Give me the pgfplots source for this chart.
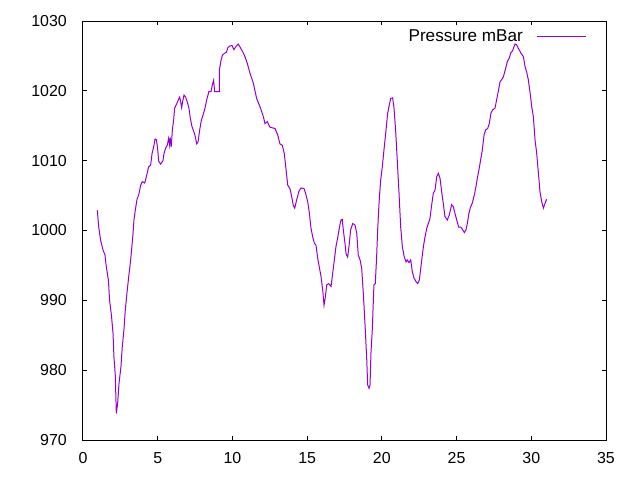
\documentclass[border=0pt]{standalone}
\usepackage{pgfplots}
\pgfplotsset{compat=1.18}
\usepackage{fontspec}
\setmainfont{Liberation Sans}
\definecolor{gp}{RGB}{148,0,211}
\begin{document}
\begin{tikzpicture}[x=1bp,y=1bp]
\begin{axis}[at={(0,0)}, anchor=south west, scale only axis,
 width=523bp, height=419bp,
 xmin=0, xmax=35, ymin=970, ymax=1030,
 xtick={0,5,...,35}, ytick={970,980,...,1030},
 minor tick num=0, tick align=inside, major tick length=4bp,
 axis line style={line width=1bp},
 every tick/.style={black, line width=1bp},
 tick label style={font=\fontsize{16}{18}\selectfont, inner sep=0pt},
 /pgf/number format/assume math mode=true,
 /pgf/number format/set thousands separator={},
 yticklabel style={xshift=-16bp},
 xticklabel style={yshift=-12bp},
 legend plot pos=right, legend cell align=right,
 legend image code/.code={\draw[#1] (0bp,0bp) -- (49bp,0bp);},
 legend style={draw=none, fill=none, inner sep=0pt, outer sep=0pt,
   at={(axis cs:33.72,1027.75)}, anchor=east, nodes={inner sep=0pt},
   column sep=14bp, font=\fontsize{17.2}{19}\selectfont},
]
\addplot[color=gp, line width=1bp, mark=none] coordinates {
(0.96,1002.9) (1.05,1000.5) (1.18,998.6) (1.34,997.2) (1.47,996.5) (1.56,994.8)
(1.70,992.9) (1.78,990.0) (1.90,987.9) (2.01,985.3) (2.07,981.9) (2.16,979.3)
(2.23,973.8) (2.32,975.3) (2.41,978.1) (2.54,980.5) (2.63,983.4) (2.74,985.8)
(2.83,988.6) (2.94,991.0) (3.06,993.4) (3.19,995.8) (3.28,997.9) (3.35,999.6)
(3.41,1001.5) (3.50,1002.9) (3.61,1004.4) (3.75,1005.3) (3.86,1006.5) (3.97,1007.0)
(4.13,1006.8) (4.24,1007.7) (4.39,1009.1) (4.53,1009.4) (4.62,1011.0) (4.75,1012.2)
(4.82,1013.1) (4.91,1013.0) (4.98,1012.0) (5.07,1009.9) (5.20,1009.5) (5.35,1010.0)
(5.42,1011.0) (5.53,1011.8) (5.64,1012.2) (5.73,1013.2) (5.80,1012.2) (5.84,1013.3)
(5.91,1012.0) (5.98,1014.4) (6.07,1015.9) (6.13,1017.5) (6.24,1018.0) (6.38,1018.7)
(6.47,1019.1) (6.54,1018.4) (6.60,1017.6) (6.69,1018.7) (6.76,1019.4) (6.87,1019.1)
(6.98,1018.4) (7.09,1017.5) (7.18,1016.1) (7.29,1014.9) (7.41,1014.2) (7.52,1013.4)
(7.61,1012.4) (7.70,1012.7) (7.81,1014.4) (7.92,1015.8) (8.03,1016.5) (8.16,1017.5)
(8.30,1018.9) (8.43,1019.9) (8.57,1019.9) (8.65,1020.8) (8.74,1021.5) (8.81,1019.9)
(9.12,1019.9) (9.13,1023.0) (9.24,1024.4) (9.33,1025.1) (9.48,1025.4) (9.59,1025.5)
(9.70,1026.2) (9.81,1026.4) (9.97,1026.5) (10.10,1025.9) (10.22,1026.3) (10.39,1026.7)
(10.53,1026.2) (10.71,1025.5) (10.86,1024.8) (11.00,1023.9) (11.18,1022.5) (11.40,1021.1)
(11.62,1018.9) (11.85,1017.7) (12.07,1016.3) (12.18,1015.3) (12.33,1015.6) (12.51,1014.8)
(12.85,1014.6) (13.03,1013.7) (13.18,1012.4) (13.34,1012.2) (13.47,1011.0) (13.59,1008.7)
(13.70,1006.5) (13.85,1006.0) (13.97,1004.8) (14.07,1003.6) (14.17,1003.2) (14.30,1004.4)
(14.45,1005.6) (14.59,1006.1) (14.79,1006.0) (14.90,1005.3) (15.04,1004.1) (15.15,1002.5)
(15.26,1000.3) (15.37,999.1) (15.48,998.2) (15.59,997.9) (15.71,996.0) (15.81,994.8)
(15.93,993.4) (16.04,991.5) (16.13,989.3) (16.22,990.5) (16.31,992.2) (16.44,992.4)
(16.60,992.0) (16.71,993.9) (16.82,995.8) (16.93,997.7) (17.04,998.9) (17.15,1000.3)
(17.26,1001.5) (17.35,1001.6) (17.42,1000.1) (17.53,998.2) (17.60,996.7) (17.71,996.2)
(17.80,997.7) (17.91,1000.1) (18.05,1001.0) (18.20,1000.8) (18.32,999.6) (18.42,996.5)
(18.54,995.8) (18.65,994.6) (18.76,991.0) (18.87,986.7) (18.99,981.5) (19.05,977.9)
(19.14,977.4) (19.21,977.9) (19.27,982.4) (19.36,985.8) (19.47,992.2) (19.56,992.4)
(19.65,996.2) (19.72,1000.1) (19.81,1003.9) (19.92,1007.2) (20.03,1009.1) (20.14,1011.5)
(20.28,1014.4) (20.39,1016.8) (20.50,1018.0) (20.59,1018.9) (20.72,1019.0) (20.81,1017.6)
(20.92,1014.4) (21.03,1010.1) (21.15,1005.3) (21.26,1000.5) (21.37,997.7) (21.50,996.2)
(21.62,995.5) (21.70,995.8) (21.82,995.4) (21.93,995.8) (22.04,994.1) (22.15,993.2)
(22.28,992.7) (22.40,992.4) (22.51,992.9) (22.67,995.8) (22.78,997.7) (22.89,999.1)
(23.00,1000.3) (23.11,1001.0) (23.22,1001.7) (23.33,1003.6) (23.44,1005.3) (23.56,1005.8)
(23.67,1007.7) (23.78,1008.2) (23.89,1007.5) (24.00,1005.6) (24.11,1003.9) (24.22,1002.0)
(24.38,1001.5) (24.51,1002.2) (24.67,1003.7) (24.78,1003.4) (24.89,1002.5) (25.01,1001.5)
(25.14,1000.5) (25.28,1000.5) (25.38,1000.2) (25.52,999.7) (25.63,1000.1) (25.72,1001.0)
(25.83,1002.5) (25.94,1003.4) (26.05,1003.9) (26.19,1005.1) (26.30,1006.3) (26.39,1007.5)
(26.50,1008.7) (26.61,1010.1) (26.72,1011.5) (26.84,1013.7) (26.95,1014.4) (27.08,1014.6)
(27.19,1015.3) (27.30,1016.8) (27.42,1017.3) (27.57,1017.5) (27.68,1018.7) (27.79,1019.9)
(27.91,1021.3) (28.02,1021.6) (28.13,1022.0) (28.26,1023.0) (28.40,1024.2) (28.53,1024.7)
(28.62,1025.4) (28.76,1025.8) (28.91,1026.7) (29.02,1026.6) (29.13,1026.1) (29.31,1025.4)
(29.47,1024.9) (29.58,1023.5) (29.69,1022.7) (29.80,1021.6) (29.91,1019.9) (30.03,1017.7)
(30.14,1016.3) (30.25,1013.0) (30.36,1011.1) (30.47,1008.4) (30.58,1005.6) (30.70,1004.1)
(30.81,1003.2) (30.92,1003.9) (31.03,1004.5)
};
\addlegendentry{Pressure mBar}
\end{axis}
\useasboundingbox (-83bp,-40bp) rectangle (557bp,440bp);
\end{tikzpicture}
\end{document}
